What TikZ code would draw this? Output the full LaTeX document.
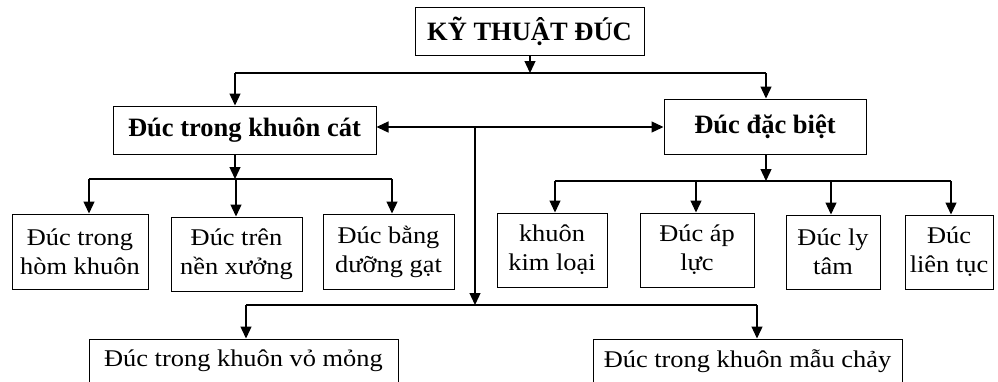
\documentclass[tikz,border=0pt]{standalone}
\usepackage{fontspec}
\setmainfont{Liberation Serif}
\newfontfamily\regfont[FakeStretch=1.1]{Liberation Serif}
\usetikzlibrary{arrows.meta}
\begin{document}
\begin{tikzpicture}[x=1pt,y=-1pt,
  box/.style={draw,line width=1pt,inner sep=0pt,align=center,font=\regfont\fontsize{24}{29}\selectfont},
  bbox/.style={box,font=\fontsize{26.5}{29}\selectfont\bfseries},
  conn/.style={line width=1.3pt},
  arr/.style={conn,-{Triangle[length=12pt,width=11pt]}},
  barline/.style={line width=2.2pt}]
\useasboundingbox (0,0) rectangle (998,381);
% nodes
\node[bbox,minimum width=229,minimum height=48] (top) at (529.5,31) {KỸ THUẬT ĐÚC};
\node[bbox,minimum width=263,minimum height=48] (sand) at (244.5,130) {Đúc trong khuôn cát};
\node[bbox,minimum width=202,minimum height=55] (special) at (765,126.5) {Đúc đặc biệt};
\node[box,minimum width=136,minimum height=75] (s1) at (80,251.5) {Đúc trong\\hòm khuôn};
\node[box,minimum width=131,minimum height=74] (s2) at (236.5,254) {Đúc trên\\nền xưởng};
\node[box,minimum width=131,minimum height=75] (s3) at (388.5,251.5) {Đúc bằng\\dưỡng gạt};
\node[box,minimum width=110,minimum height=74] (p1) at (552,250) {khuôn\\kim loại};
\node[box,minimum width=114,minimum height=74] (p2) at (697,250) {Đúc áp\\lực};
\node[box,minimum width=94,minimum height=74] (p3) at (833,252) {Đúc ly\\tâm};
\node[box,minimum width=88,minimum height=74] (p4) at (949,252) {Đúc\\liên tục};
\node[box,minimum width=309,minimum height=44] (b1) at (243.5,361) {Đúc trong khuôn vỏ mỏng};
\node[box,minimum width=309,minimum height=44] (b2) at (747.5,361) {Đúc trong khuôn mẫu chảy};
% coordinates
\coordinate (tj) at (530,73);
\coordinate (tl) at (235,73);
\coordinate (tr) at (766,73);
\coordinate (mid) at (475,127);
\coordinate (bj) at (475,305);
\coordinate (bl) at (246,305);
\coordinate (br) at (757,305);
\coordinate (lj) at (235,179);
\coordinate (ll) at (89,179);
\coordinate (lm) at (236,179);
\coordinate (lr) at (392,179);
\coordinate (rj) at (766,181);
\coordinate (r1) at (555,181);
\coordinate (r2) at (696,181);
\coordinate (r3) at (831,181);
\coordinate (r4) at (951,181);
% top level
\draw[arr] (tj |- top.south) -- (tj);
\draw[conn] (tl) -- (tr);
\draw[arr] (tl) -- (tl |- sand.north);
\draw[arr] (tr) -- (tr |- special.north);
% bidirectional and vertical
\draw[conn,{Triangle[length=12pt,width=11pt]}-{Triangle[length=12pt,width=11pt]}] (sand.east |- mid) -- (special.west |- mid);
\draw[arr] (mid) -- (bj);
\draw[barline] (bl) -- (br);
\draw[arr] (bl) -- (bl |- b1.north);
\draw[arr] (br) -- (br |- b2.north);
% sand branch
\draw[arr] (lj |- sand.south) -- (lj);
\draw[barline] (ll) -- (lr);
\draw[arr] (ll) -- (ll |- s1.north);
\draw[arr] (lm) -- (lm |- s2.north);
\draw[arr] (lr) -- (lr |- s3.north);
% special branch
\draw[arr] (rj |- special.south) -- (rj);
\draw[barline] (r1) -- (r4);
\draw[arr] (r1) -- (r1 |- p1.north);
\draw[arr] (r2) -- (r2 |- p2.north);
\draw[arr] (r3) -- (r3 |- p3.north);
\draw[arr] (r4) -- (r4 |- p4.north);
\end{tikzpicture}
\end{document}
